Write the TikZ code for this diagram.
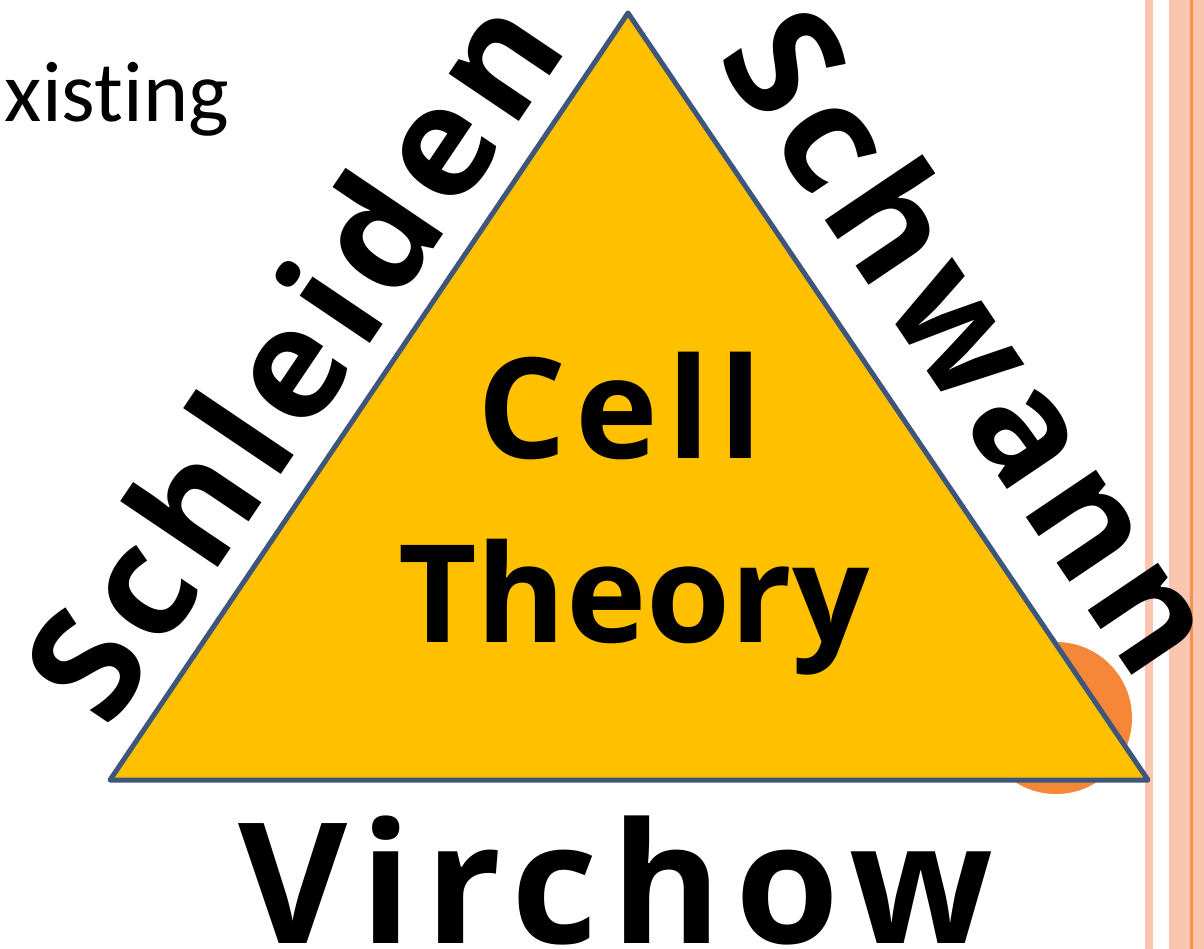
\documentclass[tikz,border=0pt]{standalone}
\usepackage{fontspec}
\setmainfont{Carlito}[Ligatures={NoCommon}]
\newfontfamily\boldsans{Open Sans}
\newfontfamily\spacedA{Open Sans}[LetterSpace=6.5]
\newfontfamily\spacedB{Open Sans}[LetterSpace=8]
\definecolor{triyellow}{RGB}{255,192,0}
\definecolor{triedge}{RGB}{62,86,124}
\definecolor{circorange}{RGB}{246,134,56}
\definecolor{stripepink}{RGB}{251,198,176}
\definecolor{stripeorange}{RGB}{247,146,80}
\tikzset{
  bigword/.style={inner sep=0pt, anchor=base, text=black},
  tri/.style={fill=triyellow, draw=triedge, line width=5pt, line join=round},
}
\begin{document}
\begin{tikzpicture}[x=1pt,y=-1pt]
\useasboundingbox (0,0) rectangle (1204,949);
% right stripes
\fill[stripepink] (1145,0) rectangle (1153,949);
\fill[stripepink] (1169,0) rectangle (1204,949);
\fill[stripeorange] (1190,0) rectangle (1192.5,949);
% orange circle behind triangle
\fill[circorange] (1056,718) circle[radius=76pt];
% triangle
\coordinate (apex) at (628,13);
\coordinate (bl) at (110,780);
\coordinate (br) at (1148,780);
\draw[tri] (apex) -- (br) -- (bl) -- cycle;
% text
\node[inner sep=0pt, anchor=base east, font=\fontsize{86}{86}\selectfont] (existing) at (229,122) {xisting};
\node[bigword, font=\spacedA\bfseries\fontsize{140}{140}\selectfont] (cell) at (620,458) {Cell};
\node[bigword, font=\boldsans\bfseries\fontsize{136}{136}\selectfont] (theory) at (634,642) {Theory};
\node[bigword, font=\spacedB\bfseries\fontsize{168}{168}\selectfont] (virchow) at (616,943) {Virchow};
\node[bigword, rotate=56, font=\spacedA\bfseries\fontsize{155}{155}\selectfont] (schleiden) at (339,389) {Schleiden};
\node[bigword, rotate=-56, font=\spacedA\bfseries\fontsize{155}{155}\selectfont] (schwann) at (927,371) {Schwann};
\end{tikzpicture}
\end{document}
